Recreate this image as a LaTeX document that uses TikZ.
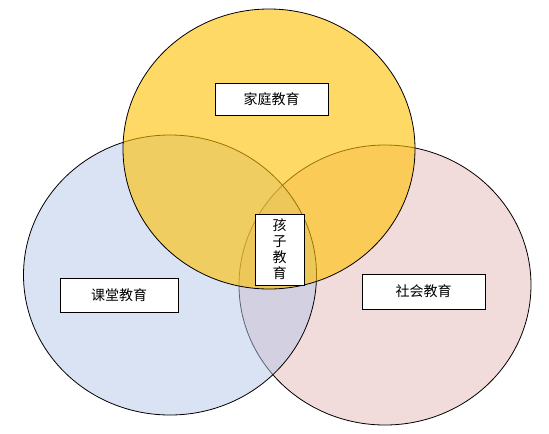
\documentclass[tikz,border=0pt]{standalone}
\usepackage{fontspec}
\setmainfont{Noto Sans CJK SC}
\definecolor{classblue}{HTML}{B5C7E7}
\definecolor{socialred}{HTML}{C0504D}
\definecolor{homeyellow}{HTML}{FFC000}

\begin{document}
\begin{tikzpicture}[
        x=0.75pt, y=-0.75pt,
        set/.style={draw=black, line width=0.6pt},
        tag/.style={draw=black, fill=white, line width=0.6pt, inner sep=0pt,
                    align=center, font=\fontsize{10.5}{12}\selectfont},
        ]
        \useasboundingbox (0,0) rectangle (549,433);

        \draw[set, fill=socialred, fill opacity=0.2]  (385,285) ellipse [x radius=146, y radius=140];
        \draw[set, fill=classblue, fill opacity=0.5]  (170,275) ellipse [x radius=146.5, y radius=140];
        \draw[set, fill=homeyellow, fill opacity=0.6] (269,149) ellipse [x radius=146, y radius=140];

        \node[tag, minimum width=84.75pt, minimum height=24pt]   (home)   at (271.5,99)    {家庭教育};
        \node[tag, minimum width=88.5pt, minimum height=25.5pt]  (class)  at (119,295)     {课堂教育};
        \node[tag, minimum width=92.25pt, minimum height=26.25pt] (social) at (423.5,291.5) {社会教育};
        \node[tag, minimum width=36.75pt, minimum height=53.25pt] (child)  at (279.5,249.5) {孩\\子\\教\\育};
      \end{tikzpicture}
\end{document}
